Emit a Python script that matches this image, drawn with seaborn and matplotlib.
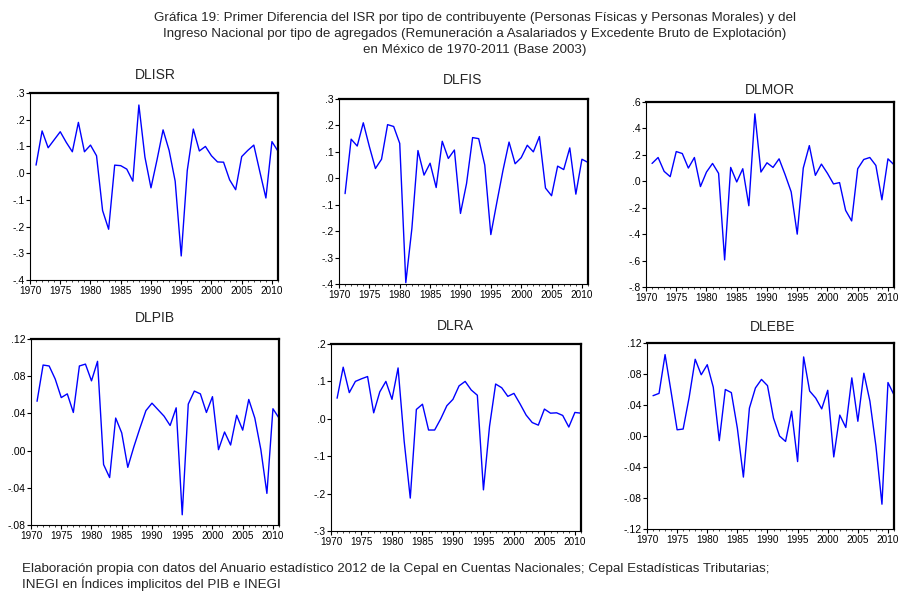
import numpy as np
import pandas as pd
import matplotlib
matplotlib.use("Agg")
import matplotlib.pyplot as plt
import seaborn as sns
from matplotlib.ticker import FuncFormatter, MultipleLocator

years = list(range(1971, 2012))

dlisr = [0.030, 0.158, 0.095, 0.125, 0.155, 0.115, 0.080, 0.190, 0.080, 0.105,
         0.065, -0.140, -0.210, 0.030, 0.028, 0.015, -0.030, 0.255, 0.060, -0.055,
         0.050, 0.162, 0.085, -0.030, -0.310, 0.010, 0.165, 0.083, 0.100, 0.065,
         0.042, 0.041, -0.025, -0.062, 0.062, 0.085, 0.105, 0.005, -0.093, 0.118, 0.082]
dlfis = [-0.058, 0.148, 0.122, 0.210, 0.120, 0.037, 0.072, 0.203, 0.196, 0.132,
         -0.395, -0.190, 0.105, 0.012, 0.057, -0.035, 0.140, 0.075, 0.107, -0.133,
         -0.020, 0.154, 0.150, 0.050, -0.213, -0.090, 0.030, 0.137, 0.055, 0.078,
         0.125, 0.100, 0.158, -0.037, -0.066, 0.046, 0.033, 0.115, -0.060, 0.072, 0.060]
dlmor = [0.135, 0.180, 0.075, 0.035, 0.225, 0.210, 0.100, 0.180, -0.040, 0.070,
         0.135, 0.060, -0.595, 0.105, -0.005, 0.095, -0.185, 0.510, 0.070, 0.140,
         0.105, 0.170, 0.050, -0.080, -0.400, 0.100, 0.270, 0.045, 0.130, 0.060,
         -0.020, -0.010, -0.220, -0.300, 0.095, 0.165, 0.180, 0.120, -0.140, 0.170, 0.125]
dlpib = [0.053, 0.092, 0.091, 0.077, 0.057, 0.061, 0.041, 0.091, 0.093, 0.075,
         0.096, -0.015, -0.029, 0.035, 0.019, -0.018, 0.004, 0.024, 0.043, 0.051,
         0.044, 0.037, 0.027, 0.046, -0.069, 0.050, 0.064, 0.061, 0.041, 0.058,
         0.001, 0.020, 0.006, 0.038, 0.022, 0.055, 0.035, 0.001, -0.046, 0.045, 0.035]
dlra = [0.055, 0.138, 0.070, 0.100, 0.107, 0.113, 0.016, 0.072, 0.100, 0.052,
        0.136, -0.060, -0.212, 0.025, 0.039, -0.030, -0.030, 0.000, 0.035, 0.052,
        0.088, 0.100, 0.077, 0.063, -0.190, -0.020, 0.093, 0.083, 0.060, 0.068,
        0.040, 0.010, -0.010, -0.017, 0.026, 0.015, 0.016, 0.009, -0.022, 0.017, 0.015]
dlebe = [0.052, 0.055, 0.105, 0.057, 0.008, 0.009, 0.050, 0.099, 0.079, 0.092,
         0.063, -0.006, 0.060, 0.056, 0.010, -0.053, 0.036, 0.062, 0.073, 0.065,
         0.023, 0.000, -0.007, 0.032, -0.033, 0.102, 0.058, 0.049, 0.035, 0.059,
         -0.027, 0.027, 0.011, 0.075, 0.019, 0.081, 0.045, -0.013, -0.088, 0.069, 0.053]

names = ["DLISR", "DLFIS", "DLMOR", "DLPIB", "DLRA", "DLEBE"]
series = [dlisr, dlfis, dlmor, dlpib, dlra, dlebe]
ylims = [(-0.4, 0.3), (-0.4, 0.3), (-0.8, 0.6), (-0.08, 0.12), (-0.3, 0.2), (-0.12, 0.12)]
ysteps = [0.1, 0.1, 0.2, 0.04, 0.1, 0.04]
ydec = [1, 1, 1, 2, 1, 2]

sns.set_theme(style="white")
plt.rcParams['font.family'] = ['Liberation Sans', 'DejaVu Sans']

fig = plt.figure(figsize=(9.01, 5.92), dpi=100)
W, H = 901, 592
# pixel boxes: left, right, top, bottom
boxes = [(30, 278, 93, 280), (339, 588, 99, 284), (646, 894, 102, 287),
         (31, 279, 339, 525), (331, 581, 344, 531), (647, 894, 343, 529)]
title_pos = [(155, 75), (463, 80), (770, 90), (155, 318), (455, 326), (773, 327)]

def make_fmt(d):
    def f(v, pos):
        s = f"{v:.{d}f}"
        if s.startswith("-0"):
            s = "-" + s[2:]
        elif s.startswith("0"):
            s = s[1:]
        if s in ("-.0", "-.00"):
            s = s[1:]
        return s
    return FuncFormatter(f)

for i, (name, vals) in enumerate(zip(names, series)):
    l, r, t, b = boxes[i]
    ax = fig.add_axes([l / W, 1 - b / H, (r - l) / W, (b - t) / H])
    df = pd.DataFrame({"year": years, "value": vals})
    sns.lineplot(data=df, x="year", y="value", ax=ax, color="#0000ff", linewidth=1.0)
    ax.set_xlim(1970, 2011)
    ax.set_ylim(*ylims[i])
    ax.yaxis.set_major_locator(MultipleLocator(ysteps[i]))
    ax.yaxis.set_major_formatter(make_fmt(ydec[i]))
    ax.xaxis.set_major_locator(MultipleLocator(5))
    ax.xaxis.set_minor_locator(MultipleLocator(1))
    ax.set_xlabel("")
    ax.set_ylabel("")
    ax.tick_params(axis="y", which="major", direction="out", length=3, width=0.8,
                   labelsize=7.5, pad=1, left=True, colors="black")
    ax.tick_params(axis="x", which="major", direction="out", length=3, width=0.8,
                   labelsize=7.2, pad=1, bottom=True, colors="black")
    ax.tick_params(axis="x", which="minor", direction="out", length=1.5, width=0.6, bottom=True)
    for s in ["left", "bottom"]:
        ax.spines[s].set_color("black")
        ax.spines[s].set_linewidth(0.8)
    for s in ["right", "top"]:
        ax.spines[s].set_color("black")
        ax.spines[s].set_linewidth(1.6)
    tx, ty = title_pos[i]
    fig.text(tx / W, 1 - ty / H, name, ha="center", va="center", fontsize=10)

fs = 9.6
fig.text(475 / W, 1 - 18 / H, "Gráfica 19: Primer Diferencia del ISR por tipo de contribuyente (Personas Físicas y Personas Morales) y del",
         ha="center", va="center", fontsize=fs)
fig.text(475 / W, 1 - 34 / H, "Ingreso Nacional por tipo de agregados (Remuneración a Asalariados y Excedente Bruto de Explotación)",
         ha="center", va="center", fontsize=fs)
fig.text(475 / W, 1 - 50 / H, "en México de 1970-2011 (Base 2003)",
         ha="center", va="center", fontsize=fs)
fig.text(22 / W, 1 - 569 / H, "Elaboración propia con datos del Anuario estadístico 2012 de la Cepal en Cuentas Nacionales; Cepal Estadísticas Tributarias;",
         ha="left", va="center", fontsize=fs)
fig.text(22 / W, 1 - 584 / H, "INEGI en Índices implicitos del PIB e INEGI",
         ha="left", va="center", fontsize=fs)

fig.savefig("out.png", dpi=100)
